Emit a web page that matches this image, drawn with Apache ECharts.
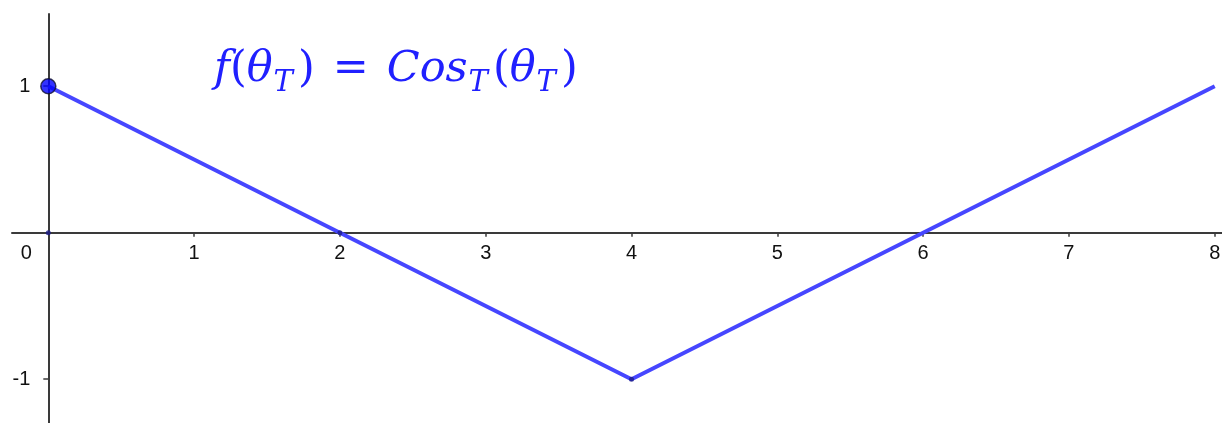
<!DOCTYPE html>
<html>
<head>
<meta charset="utf-8">
<style>
  html, body { margin: 0; padding: 0; background: #fff; }
  #chart { width: 1222px; height: 423px; }
</style>
<script src="https://cdn.jsdelivr.net/npm/echarts@6/dist/echarts.min.js"></script>
</head>
<body>
<div id="chart"></div>
<script>
// Triangle-wave "cosine": vertices of the piecewise-linear graph
const thetaValues = [0, 2, 4, 6, 8];
const cosValues = [1, 0, -1, 0, 1];

// Highlighted points
const startPoint = [[0, 1]];
const smallPoints = [[0, 0], [2, 0], [4, -1]];

// Tick positions and labels
const xTickValues = [1, 2, 3, 4, 5, 6, 7, 8];
const xLabelValues = [0, 1, 2, 3, 4, 5, 6, 7, 8];
const yTickValues = [-1, 1];

// Visible window of the plane
const xMin = -0.249, xMax = 8.05;
const yMin = -1.299, yMax = 1.493;

const lineData = thetaValues.map((t, i) => [t, cosValues[i]]);

const W = 1222, H = 423;
const grid = { left: 12, right: 0, top: 14, bottom: 0 };
// Offsets that bring each axis in from the grid edge onto the other axis' zero
const xAxisOffset = -((H - grid.top - grid.bottom) * (0 - yMin) / (yMax - yMin));
const yAxisOffset = -((W - grid.left - grid.right) * (0 - xMin) / (xMax - xMin));

const axisColor = '#3a3a3a';
const labelFont = {
  color: '#111',
  fontSize: 20,
  fontFamily: '"Liberation Sans Narrow", "Liberation Sans", Arial, sans-serif'
};

const chart = echarts.init(document.getElementById('chart'), null, { renderer: 'canvas' });

// Formula styling: italic letters, upright punctuation, lowered subscripts
const mathBlue = '#2020ff';
const serif = '"DejaVu Serif", "Liberation Serif", serif';
const mainStyle = { fontFamily: serif, fontSize: 43, fontWeight: 'normal', color: mathBlue, lineHeight: 56, verticalAlign: 'middle' };
const italic = Object.assign({}, mainStyle, { fontStyle: 'italic' });
const eq = Object.assign({}, mainStyle, { padding: [0, 18, 0, 18] });
const sub = { fontFamily: serif, fontSize: 29, fontWeight: 'normal', fontStyle: 'italic', color: mathBlue, lineHeight: 16, verticalAlign: 'bottom', padding: [0, 5, 0, 1] };

chart.setOption({
  animation: false,
  backgroundColor: '#ffffff',
  title: {
    left: 214,
    top: 42,
    padding: 0,
    text: '{i|f}{u|(}{i|θ}{s|T}{u|)}{e|=}{i|Cos}{s|T}{u|(}{i|θ}{s|T}{u|)}',
    textStyle: {
      fontWeight: 'normal',
      rich: { i: italic, u: mainStyle, e: eq, s: sub }
    }
  },
  grid: Object.assign({ containLabel: false, outerBoundsMode: 'none' }, grid),
  xAxis: {
    type: 'value',
    min: xMin,
    max: xMax,
    position: 'bottom',
    offset: xAxisOffset,
    splitLine: { show: false },
    axisLine: { onZero: false, lineStyle: { color: axisColor, width: 2 } },
    axisTick: { show: true, length: 4, customValues: xTickValues, lineStyle: { color: axisColor, width: 1.5 } },
    axisLabel: {
      customValues: xLabelValues,
      margin: 11,
      formatter: v => (v === 0 ? '{z|0}' : String(v)),
      ...labelFont,
      rich: { z: Object.assign({}, labelFont, { padding: [0, 44, 0, 0] }) }
    }
  },
  yAxis: {
    type: 'value',
    min: yMin,
    max: yMax,
    position: 'left',
    offset: yAxisOffset,
    splitLine: { show: false },
    axisLine: { onZero: false, lineStyle: { color: axisColor, width: 2 } },
    axisTick: { show: true, length: 5, customValues: yTickValues, lineStyle: { color: axisColor, width: 1.5 } },
    axisLabel: {
      customValues: yTickValues,
      margin: 18,
      ...labelFont
    }
  },
  series: [
    {
      type: 'line',
      data: lineData,
      showSymbol: false,
      symbol: 'none',
      lineStyle: { color: '#4646ff', width: 4 },
      z: 3
    },
    {
      type: 'scatter',
      data: smallPoints,
      symbolSize: 5,
      itemStyle: { color: '#1c1c8a' },
      z: 4
    },
    {
      type: 'scatter',
      data: startPoint,
      symbolSize: 15,
      itemStyle: { color: '#0000ff', borderColor: '#101030', borderWidth: 1.5 },
      z: 5
    }
  ]
});
</script>
</body>
</html>
